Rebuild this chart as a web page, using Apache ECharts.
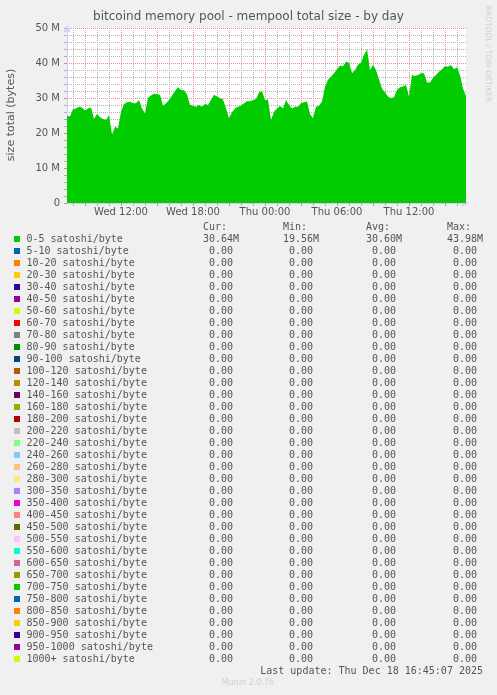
<!DOCTYPE html>
<html>
<head>
<meta charset="utf-8">
<script src="https://cdn.jsdelivr.net/npm/echarts@6/dist/echarts.min.js"></script>
<style>
  html, body { margin: 0; padding: 0; background: #f0f0f0; }
  #chart { width: 497px; height: 695px; }
</style>
</head>
<body>
<div id="chart"></div>
<script>
// mempool size, 0-5 satoshi/byte, in M bytes, one point per 15 min from Wed 07:30 to Thu 16:45
const mempoolSize = [
  24.9, 24.7, 26.8, 27.0, 27.5, 27.3, 26.4, 27.0, 27.3, 24.0,
  25.4, 24.5, 24.0, 23.7, 25.1, 19.6, 21.8, 21.3, 26.1, 28.3,
  28.8, 28.9, 28.5, 28.5, 29.4, 27.0, 25.6, 30.1, 30.7, 31.2,
  31.1, 30.9, 27.8, 28.5, 29.4, 30.7, 32.0, 33.1, 32.3, 32.2,
  31.1, 28.0, 27.8, 27.5, 28.0, 27.5, 28.3, 28.0, 29.4, 30.9,
  30.4, 29.9, 29.6, 27.0, 24.2, 25.9, 27.0, 27.5, 27.8, 28.5,
  29.1, 29.1, 29.4, 29.7, 31.6, 32.0, 29.4, 29.6, 23.7, 26.1,
  27.0, 27.7, 27.0, 29.4, 28.0, 27.0, 27.5, 27.5, 28.5, 28.8,
  29.0, 25.4, 24.2, 27.5, 27.8, 29.0, 33.2, 35.2, 36.1, 37.1,
  38.2, 39.3, 39.0, 40.4, 40.1, 37.1, 38.0, 39.5, 40.1, 42.3,
  43.9, 38.0, 39.4, 38.0, 35.3, 32.7, 31.6, 30.4, 29.9, 30.2,
  32.3, 33.1, 33.3, 33.7, 30.4, 36.6, 36.3, 36.6, 37.1, 37.1,
  34.4, 34.4, 35.8, 36.6, 37.5, 38.2, 39.1, 38.9, 39.4, 38.2,
  38.8, 36.6, 32.7, 30.6
]

// time categories (every 15 min)
const timeLabels = []
for (let i = 0; i < mempoolSize.length; i++) {
  let t = 450 + 15 * i
  let day = t >= 1440 ? 'Thu' : 'Wed'
  let hh = Math.floor((t % 1440) / 60), mm = t % 60
  timeLabels.push(day + ' ' + String(hh).padStart(2, '0') + ':' + String(mm).padStart(2, '0'))
}

const seriesNames = [
  '0-5', '5-10', '10-20', '20-30', '30-40', '40-50', '50-60', '60-70', '70-80', '80-90',
  '90-100', '100-120', '120-140', '140-160', '160-180', '180-200', '200-220', '220-240',
  '240-260', '260-280', '280-300', '300-350', '350-400', '400-450', '450-500', '500-550',
  '550-600', '600-650', '650-700', '700-750', '750-800', '800-850', '850-900', '900-950',
  '950-1000', '1000+'
]
const seriesColors = [
  '#00cc00', '#0066b3', '#ff8000', '#ffcc00', '#330099', '#990099', '#ccff00', '#ff0000',
  '#808080', '#008f00', '#00487d', '#b35a00', '#b38f00', '#6b006b', '#8fb300', '#b30000',
  '#bebebe', '#80ff80', '#80c9ff', '#ffc080', '#ffe680', '#aa80ff', '#ee00cc', '#ff8080',
  '#666600', '#ffbfff', '#00ffcc', '#cc6699', '#999900', '#00cc00', '#0066b3', '#ff8000',
  '#ffcc00', '#330099', '#990099', '#ccff00'
]
// legend stats (bytes)
const curVals = [30.64e6, 0,0,0,0,0,0,0,0,0,0,0,0,0,0,0,0,0,0,0,0,0,0,0,0,0,0,0,0,0,0,0,0,0,0,0]
const minVals = [19.56e6, 0,0,0,0,0,0,0,0,0,0,0,0,0,0,0,0,0,0,0,0,0,0,0,0,0,0,0,0,0,0,0,0,0,0,0]
const avgVals = [30.60e6, 0,0,0,0,0,0,0,0,0,0,0,0,0,0,0,0,0,0,0,0,0,0,0,0,0,0,0,0,0,0,0,0,0,0,0]
const maxVals = [43.98e6, 0,0,0,0,0,0,0,0,0,0,0,0,0,0,0,0,0,0,0,0,0,0,0,0,0,0,0,0,0,0,0,0,0,0,0]
const yTicks = [0, 10, 20, 30, 40, 50]

const minorGrid = '#b4b4b4'
const majorGrid = '#e89090'
const axisBlue = '#c8d0fa'
const mono = '"DejaVu Sans Mono", monospace'
const sans = '"DejaVu Sans", sans-serif'

function isHour(v){ return v.slice(-2) == '00' }
function isMajor(v){ return isHour(v) && parseInt(v.slice(4, 6)) % 3 == 0 }
function isLabel(v){ return isHour(v) && parseInt(v.slice(4, 6)) % 6 == 0 }

function fmtVal(v){
  if (v >= 1e6) return (v / 1e6).toFixed(2) + 'M'
  return ' ' + v.toFixed(2)
}

// titles and legend table built as graphic
let graphic = []
graphic.push({ type: 'text', left: 'center', top: 11, style: { text: 'bitcoind memory pool - mempool total size - by day', font: '12px ' + sans, fill: '#555' } })
graphic.push({ type: 'text', x: 11, y: 115, rotation: Math.PI / 2, style: { text: 'size total (bytes)', font: '11px ' + sans, fill: '#555', textAlign: 'center', textVerticalAlign: 'middle' } })
graphic.push({ type: 'text', x: 488, y: 54, rotation: -Math.PI / 2, style: { text: 'RRDTOOL / TOBI OETIKER', font: '7.5px ' + sans, fill: '#cfcfcf', textAlign: 'center', textVerticalAlign: 'middle' } })

const colX = [203, 283, 366, 447]
;['Cur:', 'Min:', 'Avg:', 'Max:'].forEach((h, j) => {
  graphic.push({ type: 'text', x: colX[j], y: 227, style: { text: h, font: '10px ' + mono, fill: '#555', textVerticalAlign: 'middle' } })
})
seriesNames.forEach((n, k) => {
  let y = 239 + 12 * k
  graphic.push({ type: 'rect', shape: { x: 14, y: y - 3, width: 6, height: 6 }, style: { fill: seriesColors[k] } })
  graphic.push({ type: 'text', x: 26.5, y: y, style: { text: n + ' satoshi/byte', font: '10px ' + mono, fill: '#555', textVerticalAlign: 'middle' } })
  ;[curVals, minVals, avgVals, maxVals].forEach((arr, j) => {
    graphic.push({ type: 'text', x: colX[j], y: y, style: { text: fmtVal(arr[k]), font: '10px ' + mono, fill: '#555', textVerticalAlign: 'middle' } })
  })
})
graphic.push({ type: 'text', x: 483, y: 671, style: { text: 'Last update: Thu Dec 18 16:45:07 2025', font: '10px ' + mono, fill: '#555', textAlign: 'right', textVerticalAlign: 'middle' } })
graphic.push({ type: 'text', x: 248, y: 683, style: { text: 'Munin 2.0.76', font: '8px ' + sans, fill: '#d0d0d0', textAlign: 'center', textVerticalAlign: 'middle' } })

let option = {
  backgroundColor: '#f0f0f0',
  animation: false,
  grid: { left: 67, top: 28, width: 399, height: 175, show: true, backgroundColor: '#ffffff', borderWidth: 0 },
  xAxis: [
    {
      type: 'category', data: timeLabels, boundaryGap: false, position: 'bottom',
      axisLine: { show: true, lineStyle: { color: axisBlue }, symbol: ['none', 'arrow'], symbolSize: [6, 8], symbolOffset: [0, 3] },
      axisTick: { show: true, interval: (i, v) => isHour(v) && !isMajor(v), length: 3, lineStyle: { color: '#b0b0b0' } },
      axisLabel: { show: false },
      splitLine: { show: true, interval: (i, v) => isHour(v) && !isMajor(v), lineStyle: { color: minorGrid, type: 'dotted' } }
    },
    {
      type: 'category', data: timeLabels, boundaryGap: false, position: 'bottom',
      axisLine: { show: false },
      axisTick: { show: true, interval: (i, v) => isMajor(v), length: 3, lineStyle: { color: '#ee8080' } },
      axisLabel: { show: true, interval: (i, v) => isLabel(v), color: '#555', fontSize: 10, fontFamily: sans, margin: 4 },
      splitLine: { show: true, interval: (i, v) => isMajor(v), lineStyle: { color: majorGrid, type: 'dotted' } }
    }
  ],
  yAxis: [
    {
      type: 'value', min: 0, max: 50, interval: 2, position: 'left',
      axisLine: { show: true, lineStyle: { color: axisBlue }, symbol: ['none', 'arrow'], symbolSize: [6, 8], symbolOffset: [0, 3] },
      axisTick: { show: true, length: 3, lineStyle: { color: '#b0b0b0' } },
      axisLabel: { show: false },
      splitLine: { show: true, lineStyle: { color: [majorGrid, minorGrid, minorGrid, minorGrid, minorGrid], type: 'dotted' } }
    },
    {
      type: 'value', min: 0, max: 50, interval: 10, position: 'left', offset: 0,
      axisLine: { show: false },
      axisTick: { show: true, length: 3, lineStyle: { color: '#ee8080' } },
      axisLabel: { color: '#555', fontSize: 10, fontFamily: sans, margin: 7,
        formatter: v => yTicks.indexOf(v) < 0 ? '' : (v ? v + ' M' : '0') },
      splitLine: { show: false }
    }
  ],
  series: [
    {
      name: seriesNames[0] + ' satoshi/byte',
      type: 'line', data: mempoolSize, xAxisIndex: 0, yAxisIndex: 0,
      showSymbol: false, lineStyle: { width: 0 },
      areaStyle: { color: seriesColors[0], opacity: 1 }
    }
  ],
  graphic: graphic
}

let myChart = echarts.init(document.getElementById('chart'))
myChart.setOption(option)
</script>
</body>
</html>
